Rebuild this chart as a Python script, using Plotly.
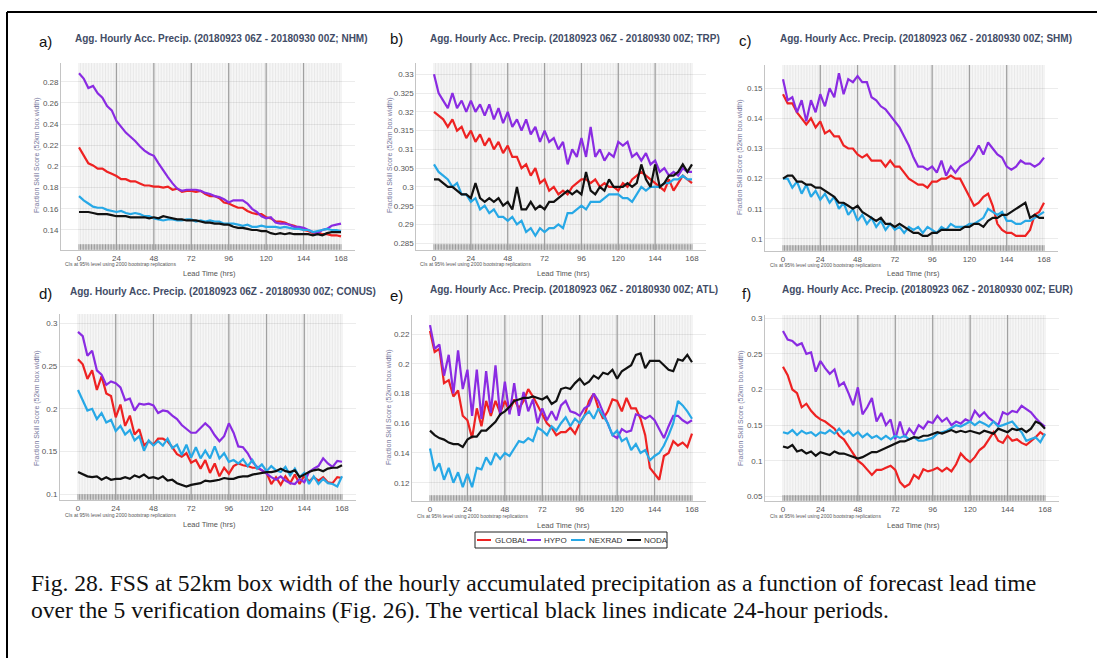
import plotly.graph_objects as go

W, H = 1097, 658

# ---------------------------------------------------------------- data
hours = list(range(0, 169, 3))
x_tick_vals = [0, 24, 48, 72, 96, 120, 144, 168]
x_tick_text = ["0", "24", "48", "72", "96", "120", "144", "168"]

series_names = ["GLOBAL", "HYPO", "NEXRAD", "NODA"]
series_colors = ["#ee2222", "#8a2be2", "#27a8e6", "#111111"]

domain_names = ["NHM", "TRP", "SHM", "CONUS", "ATL", "EUR"]
panel_letters = ["a)", "b)", "c)", "d)", "e)", "f)"]

# NHM
nhm_global = [0.218, 0.210, 0.203, 0.201, 0.198, 0.198, 0.195, 0.193,
              0.191, 0.188, 0.188, 0.186, 0.186, 0.184, 0.182, 0.182,
              0.181, 0.181, 0.180, 0.181, 0.178, 0.179, 0.176, 0.177,
              0.177, 0.176, 0.177, 0.174, 0.172, 0.172, 0.170, 0.166,
              0.165, 0.163, 0.161, 0.161, 0.158, 0.156, 0.155, 0.155,
              0.152, 0.151, 0.148, 0.148, 0.147, 0.145, 0.144, 0.142,
              0.140, 0.139, 0.137, 0.138, 0.136, 0.136, 0.135, 0.135,
              0.134]
nhm_hypo = [0.288, 0.283, 0.274, 0.276, 0.269, 0.265, 0.257, 0.253,
            0.243, 0.237, 0.232, 0.228, 0.224, 0.219, 0.215, 0.212,
            0.210, 0.203, 0.196, 0.190, 0.184, 0.179, 0.177, 0.178,
            0.178, 0.178, 0.177, 0.175, 0.174, 0.172, 0.171, 0.169,
            0.166, 0.168, 0.168, 0.168, 0.165, 0.160, 0.157, 0.153,
            0.151, 0.152, 0.147, 0.146, 0.146, 0.145, 0.143, 0.143,
            0.142, 0.140, 0.138, 0.137, 0.140, 0.141, 0.144, 0.145,
            0.146]
nhm_nexrad = [0.172, 0.168, 0.165, 0.162, 0.161, 0.161, 0.159, 0.158,
              0.157, 0.158, 0.156, 0.155, 0.156, 0.155, 0.153, 0.153,
              0.151, 0.150, 0.149, 0.150, 0.150, 0.149, 0.149, 0.150,
              0.150, 0.148, 0.149, 0.148, 0.149, 0.148, 0.148, 0.146,
              0.146, 0.146, 0.145, 0.144, 0.145, 0.143, 0.143, 0.144,
              0.143, 0.143, 0.143, 0.142, 0.143, 0.142, 0.141, 0.141,
              0.140, 0.140, 0.138, 0.139, 0.140, 0.141, 0.140, 0.140,
              0.139]
nhm_noda = [0.157, 0.157, 0.157, 0.156, 0.155, 0.155, 0.155, 0.154,
            0.153, 0.153, 0.153, 0.152, 0.152, 0.152, 0.152, 0.151,
            0.152, 0.151, 0.153, 0.152, 0.151, 0.150, 0.150, 0.149,
            0.149, 0.149, 0.148, 0.147, 0.147, 0.146, 0.146, 0.145,
            0.145, 0.143, 0.142, 0.142, 0.141, 0.140, 0.140, 0.139,
            0.139, 0.137, 0.136, 0.137, 0.136, 0.137, 0.136, 0.136,
            0.136, 0.136, 0.135, 0.136, 0.135, 0.137, 0.138, 0.138,
            0.138]

# TRP
trp_global = [0.320, 0.319, 0.318, 0.316, 0.318, 0.315, 0.316, 0.313,
              0.315, 0.312, 0.314, 0.311, 0.313, 0.310, 0.312, 0.309,
              0.311, 0.308, 0.308, 0.305, 0.306, 0.303, 0.305, 0.301,
              0.302, 0.299, 0.300, 0.298, 0.299, 0.298, 0.300, 0.301,
              0.302, 0.302, 0.301, 0.302, 0.300, 0.301, 0.300, 0.300,
              0.299, 0.301, 0.300, 0.302, 0.303, 0.304, 0.303, 0.302,
              0.301, 0.300, 0.299, 0.302, 0.299, 0.301, 0.303, 0.302,
              0.301]
trp_hypo = [0.330, 0.325, 0.323, 0.321, 0.325, 0.321, 0.323, 0.320,
            0.323, 0.320, 0.322, 0.319, 0.322, 0.318, 0.321, 0.317,
            0.320, 0.316, 0.318, 0.315, 0.318, 0.314, 0.316, 0.312,
            0.315, 0.312, 0.313, 0.310, 0.312, 0.306, 0.310, 0.308,
            0.313, 0.308, 0.316, 0.308, 0.310, 0.307, 0.309, 0.308,
            0.312, 0.311, 0.312, 0.308, 0.309, 0.307, 0.309, 0.306,
            0.307, 0.304, 0.305, 0.303, 0.304, 0.303, 0.305, 0.304,
            0.304]
trp_nexrad = [0.306, 0.304, 0.303, 0.302, 0.300, 0.301, 0.298, 0.298,
              0.296, 0.297, 0.294, 0.295, 0.293, 0.294, 0.292, 0.292,
              0.291, 0.292, 0.290, 0.291, 0.288, 0.289, 0.287, 0.289,
              0.288, 0.289, 0.289, 0.290, 0.289, 0.293, 0.293, 0.294,
              0.295, 0.294, 0.296, 0.296, 0.296, 0.297, 0.298, 0.298,
              0.298, 0.297, 0.297, 0.296, 0.298, 0.300, 0.299, 0.300,
              0.300, 0.300, 0.301, 0.301, 0.302, 0.302, 0.303, 0.302,
              0.302]
trp_noda = [0.302, 0.302, 0.301, 0.300, 0.300, 0.299, 0.298, 0.298,
            0.297, 0.301, 0.297, 0.296, 0.297, 0.296, 0.297, 0.295,
            0.296, 0.294, 0.300, 0.294, 0.294, 0.296, 0.294, 0.295,
            0.294, 0.296, 0.296, 0.297, 0.298, 0.299, 0.298, 0.299,
            0.298, 0.304, 0.299, 0.298, 0.300, 0.299, 0.302, 0.300,
            0.300, 0.300, 0.301, 0.300, 0.301, 0.306, 0.302, 0.300,
            0.306, 0.300, 0.301, 0.303, 0.303, 0.304, 0.306, 0.304,
            0.306]

# SHM
shm_global = [0.148, 0.145, 0.145, 0.142, 0.140, 0.138, 0.140, 0.137,
              0.139, 0.135, 0.136, 0.134, 0.134, 0.131, 0.130, 0.130,
              0.128, 0.127, 0.128, 0.126, 0.126, 0.126, 0.124, 0.126,
              0.124, 0.124, 0.122, 0.120, 0.119, 0.118, 0.118, 0.117,
              0.119, 0.119, 0.120, 0.120, 0.121, 0.120, 0.120, 0.117,
              0.114, 0.111, 0.112, 0.114, 0.115, 0.111, 0.105, 0.103,
              0.102, 0.102, 0.101, 0.101, 0.101, 0.103, 0.108, 0.109,
              0.112]
shm_hypo = [0.153, 0.146, 0.147, 0.142, 0.146, 0.139, 0.146, 0.142,
            0.148, 0.144, 0.150, 0.147, 0.155, 0.148, 0.153, 0.152,
            0.154, 0.152, 0.152, 0.147, 0.146, 0.144, 0.143, 0.141,
            0.139, 0.137, 0.134, 0.131, 0.127, 0.124, 0.124, 0.123,
            0.124, 0.122, 0.126, 0.121, 0.124, 0.122, 0.124, 0.125,
            0.126, 0.128, 0.131, 0.128, 0.132, 0.130, 0.128, 0.127,
            0.124, 0.123, 0.124, 0.126, 0.125, 0.125, 0.124, 0.125,
            0.127]
shm_nexrad = [0.120, 0.120, 0.117, 0.119, 0.115, 0.118, 0.114, 0.116,
              0.113, 0.115, 0.112, 0.114, 0.110, 0.112, 0.108, 0.110,
              0.106, 0.108, 0.105, 0.107, 0.104, 0.106, 0.103, 0.105,
              0.103, 0.104, 0.102, 0.104, 0.103, 0.104, 0.102, 0.104,
              0.103, 0.102, 0.104, 0.103, 0.105, 0.104, 0.104, 0.104,
              0.105, 0.105, 0.106, 0.107, 0.110, 0.109, 0.108, 0.109,
              0.106, 0.106, 0.105, 0.105, 0.106, 0.106, 0.107, 0.108,
              0.109]
shm_noda = [0.120, 0.121, 0.121, 0.119, 0.119, 0.118, 0.118, 0.117,
            0.117, 0.116, 0.115, 0.114, 0.112, 0.112, 0.111, 0.110,
            0.111, 0.109, 0.108, 0.107, 0.106, 0.107, 0.105, 0.105,
            0.104, 0.105, 0.104, 0.103, 0.102, 0.102, 0.101, 0.101,
            0.102, 0.102, 0.103, 0.103, 0.103, 0.103, 0.103, 0.104,
            0.104, 0.105, 0.105, 0.104, 0.106, 0.107, 0.107, 0.108,
            0.108, 0.109, 0.110, 0.111, 0.112, 0.107, 0.108, 0.107,
            0.107]

# CONUS
conus_global = [0.258, 0.252, 0.235, 0.245, 0.222, 0.238, 0.218, 0.215,
                0.190, 0.205, 0.180, 0.192, 0.170, 0.176, 0.157, 0.162,
                0.158, 0.165, 0.165, 0.162, 0.155, 0.147, 0.144, 0.148,
                0.137, 0.140, 0.130, 0.140, 0.125, 0.136, 0.121, 0.131,
                0.124, 0.133, 0.136, 0.134, 0.133, 0.131, 0.131, 0.128,
                0.125, 0.112, 0.120, 0.111, 0.121, 0.113, 0.123, 0.112,
                0.122, 0.115, 0.120, 0.116, 0.120, 0.114, 0.113, 0.120,
                0.119]
conus_hypo = [0.290, 0.285, 0.262, 0.268, 0.245, 0.240, 0.228, 0.232,
              0.230, 0.225, 0.210, 0.212, 0.198, 0.206, 0.205, 0.206,
              0.204, 0.195, 0.198, 0.197, 0.192, 0.188, 0.181, 0.176,
              0.172, 0.172, 0.178, 0.183, 0.178, 0.169, 0.162, 0.168,
              0.183, 0.172, 0.156, 0.155, 0.148, 0.138, 0.132, 0.128,
              0.123, 0.120, 0.117, 0.121, 0.116, 0.113, 0.112, 0.118,
              0.114, 0.126, 0.130, 0.133, 0.142, 0.136, 0.132, 0.139,
              0.138]
conus_nexrad = [0.222, 0.210, 0.198, 0.200, 0.188, 0.195, 0.184, 0.187,
                0.174, 0.180, 0.170, 0.175, 0.163, 0.168, 0.151, 0.163,
                0.157, 0.162, 0.157, 0.165, 0.154, 0.158, 0.146, 0.158,
                0.143, 0.155, 0.142, 0.151, 0.142, 0.156, 0.142, 0.148,
                0.138, 0.140, 0.136, 0.141, 0.133, 0.140, 0.130, 0.135,
                0.127, 0.133, 0.128, 0.126, 0.132, 0.122, 0.130, 0.120,
                0.125, 0.112, 0.121, 0.112, 0.118, 0.113, 0.112, 0.109,
                0.121]
conus_noda = [0.126, 0.123, 0.121, 0.120, 0.121, 0.117, 0.120, 0.117,
              0.118, 0.118, 0.120, 0.118, 0.122, 0.120, 0.123, 0.119,
              0.120, 0.118, 0.121, 0.116, 0.117, 0.113, 0.111, 0.109,
              0.111, 0.112, 0.113, 0.116, 0.115, 0.116, 0.117, 0.119,
              0.118, 0.118, 0.120, 0.121, 0.121, 0.123, 0.124, 0.125,
              0.126, 0.126, 0.127, 0.130, 0.127, 0.126, 0.128, 0.120,
              0.123, 0.126, 0.128, 0.129, 0.127, 0.130, 0.131, 0.131,
              0.134]

# ATL
atl_global = [0.222, 0.208, 0.210, 0.187, 0.189, 0.178, 0.182, 0.165,
              0.162, 0.150, 0.170, 0.158, 0.175, 0.165, 0.175, 0.167,
              0.175, 0.168, 0.176, 0.170, 0.175, 0.183, 0.178, 0.172,
              0.165, 0.160, 0.157, 0.152, 0.154, 0.154, 0.157, 0.153,
              0.160, 0.165, 0.175, 0.180, 0.170, 0.163, 0.168, 0.176,
              0.175, 0.168, 0.177, 0.170, 0.170, 0.163, 0.152, 0.130,
              0.126, 0.122, 0.138, 0.140, 0.148, 0.145, 0.147, 0.144,
              0.153]
atl_hypo = [0.226, 0.210, 0.213, 0.192, 0.206, 0.180, 0.209, 0.183,
            0.196, 0.165, 0.196, 0.163, 0.195, 0.167, 0.199, 0.165,
            0.188, 0.166, 0.187, 0.165, 0.181, 0.168, 0.176, 0.160,
            0.170, 0.162, 0.168, 0.162, 0.172, 0.175, 0.168, 0.167,
            0.165, 0.170, 0.172, 0.180, 0.175, 0.167, 0.160, 0.152,
            0.150, 0.156, 0.154, 0.155, 0.166, 0.165, 0.163, 0.165,
            0.162, 0.156, 0.150, 0.158, 0.165, 0.165, 0.162, 0.160,
            0.162]
atl_nexrad = [0.143, 0.128, 0.133, 0.122, 0.130, 0.120, 0.127, 0.117,
              0.126, 0.117, 0.130, 0.129, 0.137, 0.132, 0.140, 0.136,
              0.140, 0.138, 0.143, 0.148, 0.147, 0.150, 0.148, 0.157,
              0.155, 0.152, 0.158, 0.155, 0.160, 0.164, 0.158, 0.163,
              0.160, 0.165, 0.168, 0.163, 0.170, 0.165, 0.160, 0.152,
              0.155, 0.148, 0.150, 0.142, 0.146, 0.140, 0.142, 0.135,
              0.138, 0.140, 0.145, 0.152, 0.160, 0.175, 0.172, 0.168,
              0.163]
atl_noda = [0.155, 0.152, 0.150, 0.149, 0.147, 0.146, 0.146, 0.144,
            0.149, 0.151, 0.151, 0.155, 0.155, 0.158, 0.161, 0.166,
            0.168, 0.171, 0.175, 0.176, 0.177, 0.177, 0.178, 0.177,
            0.176, 0.178, 0.173, 0.175, 0.183, 0.184, 0.183, 0.187,
            0.190, 0.186, 0.188, 0.192, 0.190, 0.194, 0.193, 0.196,
            0.190, 0.195, 0.197, 0.199, 0.206, 0.207, 0.197, 0.202,
            0.202, 0.202, 0.199, 0.196, 0.195, 0.203, 0.202, 0.206,
            0.201]

# EUR
eur_global = [0.232, 0.220, 0.200, 0.195, 0.175, 0.180, 0.170, 0.163,
              0.158, 0.155, 0.150, 0.145, 0.135, 0.130, 0.120, 0.110,
              0.100, 0.095, 0.088, 0.080, 0.087, 0.087, 0.090, 0.093,
              0.087, 0.070, 0.063, 0.067, 0.080, 0.075, 0.088, 0.085,
              0.087, 0.090, 0.085, 0.090, 0.085, 0.095, 0.110, 0.103,
              0.098, 0.105, 0.115, 0.120, 0.130, 0.140, 0.128, 0.125,
              0.135, 0.128, 0.130, 0.125, 0.122, 0.127, 0.133, 0.140,
              0.135]
eur_hypo = [0.282, 0.270, 0.268, 0.262, 0.265, 0.250, 0.252, 0.225,
            0.240, 0.230, 0.222, 0.228, 0.205, 0.210, 0.195, 0.178,
            0.203, 0.165, 0.175, 0.188, 0.155, 0.167, 0.150, 0.158,
            0.130, 0.155, 0.133, 0.145, 0.137, 0.150, 0.145, 0.155,
            0.153, 0.163, 0.155, 0.160, 0.150, 0.155, 0.152, 0.158,
            0.155, 0.170, 0.162, 0.168, 0.160, 0.155, 0.150, 0.168,
            0.165, 0.170, 0.168, 0.177, 0.172, 0.168, 0.160, 0.153,
            0.148]
eur_nexrad = [0.140, 0.138, 0.143, 0.136, 0.142, 0.138, 0.140, 0.135,
              0.140, 0.138, 0.143, 0.138, 0.145, 0.137, 0.142, 0.135,
              0.140, 0.133, 0.138, 0.132, 0.135, 0.130, 0.135, 0.130,
              0.135, 0.132, 0.135, 0.130, 0.133, 0.128, 0.128, 0.130,
              0.132, 0.138, 0.140, 0.142, 0.146, 0.150, 0.148, 0.152,
              0.155, 0.150, 0.155, 0.152, 0.148, 0.155, 0.148, 0.150,
              0.152, 0.155, 0.147, 0.140, 0.128, 0.130, 0.133, 0.126,
              0.138]
eur_noda = [0.120, 0.118, 0.122, 0.113, 0.115, 0.110, 0.113, 0.107,
            0.112, 0.110, 0.108, 0.113, 0.110, 0.110, 0.108, 0.105,
            0.103, 0.105, 0.108, 0.112, 0.112, 0.115, 0.118, 0.120,
            0.123, 0.127, 0.127, 0.130, 0.133, 0.132, 0.135, 0.135,
            0.137, 0.140, 0.138, 0.140, 0.143, 0.140, 0.142, 0.140,
            0.142, 0.140, 0.138, 0.142, 0.140, 0.138, 0.145, 0.142,
            0.140, 0.145, 0.143, 0.145, 0.140, 0.145, 0.155, 0.152,
            0.145]

panel_series = [
    [nhm_global, nhm_hypo, nhm_nexrad, nhm_noda],
    [trp_global, trp_hypo, trp_nexrad, trp_noda],
    [shm_global, shm_hypo, shm_nexrad, shm_noda],
    [conus_global, conus_hypo, conus_nexrad, conus_noda],
    [atl_global, atl_hypo, atl_nexrad, atl_noda],
    [eur_global, eur_hypo, eur_nexrad, eur_noda],
]

# y tick values / labels per panel
nhm_yticks = [0.14, 0.16, 0.18, 0.20, 0.22, 0.24, 0.26, 0.28]
nhm_ylabels = ["0.14", "0.16", "0.18", "0.2", "0.22", "0.24", "0.26", "0.28"]
trp_yticks = [0.285, 0.29, 0.295, 0.30, 0.305, 0.31, 0.315, 0.32, 0.325, 0.33]
trp_ylabels = ["0.285", "0.29", "0.295", "0.3", "0.305", "0.31", "0.315", "0.32", "0.325", "0.33"]
shm_yticks = [0.10, 0.11, 0.12, 0.13, 0.14, 0.15]
shm_ylabels = ["0.1", "0.11", "0.12", "0.13", "0.14", "0.15"]
conus_yticks = [0.10, 0.15, 0.20, 0.25, 0.30]
conus_ylabels = ["0.1", "0.15", "0.2", "0.25", "0.3"]
atl_yticks = [0.12, 0.14, 0.16, 0.18, 0.20, 0.22]
atl_ylabels = ["0.12", "0.14", "0.16", "0.18", "0.2", "0.22"]
eur_yticks = [0.05, 0.10, 0.15, 0.20, 0.25, 0.30]
eur_ylabels = ["0.05", "0.1", "0.15", "0.2", "0.25", "0.3"]

panel_yticks = [(nhm_yticks, nhm_ylabels), (trp_yticks, trp_ylabels),
                (shm_yticks, shm_ylabels), (conus_yticks, conus_ylabels),
                (atl_yticks, atl_ylabels), (eur_yticks, eur_ylabels)]
panel_yranges = [[0.1211, 0.2977], [0.2832, 0.3330], [0.0960, 0.1577],
                 [0.0933, 0.3109], [0.1077, 0.2328], [0.0434, 0.3046]]

title_tpl = "Agg. Hourly Acc. Precip. (20180923 06Z - 20180930 00Z; {})"
y_title = "Fraction Skill Score (52km box width)"
x_title = "Lead Time (hrs)"
ci_note = "CIs at 95% level using 2000 bootstrap replications"
caption_lines = [
    "Fig. 28. FSS at 52km box width of the hourly accumulated precipitation as a function of forecast lead time",
    "over the 5 verification domains (Fig. 26). The vertical black lines indicate 24-hour periods.",
]

# ---------------------------------------------------------------- layout geometry (pixels)
# x pixel of hour 0 / hour 168, plot top / bottom, and text anchors
geom = [
    dict(x0=79, x168=341, top=63, bottom=250, letter=(37, 42), title=(73, 39), ytitle=(37, 155), ci=(63, 264), xtitle=(209, 273)),
    dict(x0=434, x168=692, top=63, bottom=250, letter=(388, 39), title=(428, 39), ytitle=(390, 155), ci=(418, 264), xtitle=(563, 273)),
    dict(x0=783, x168=1044, top=65, bottom=251, letter=(737, 40), title=(778, 39), ytitle=(740, 157), ci=(768, 265), xtitle=(913, 274)),
    dict(x0=78, x168=342, top=314, bottom=500, letter=(37, 293), title=(68, 291), ytitle=(37, 408), ci=(63, 515), xtitle=(209, 524)),
    dict(x0=430, x168=692, top=315, bottom=501, letter=(388, 295), title=(428, 290), ytitle=(389, 407), ci=(415, 516), xtitle=(563, 525)),
    dict(x0=783, x168=1045, top=315, bottom=501, letter=(740, 293), title=(780, 290), ytitle=(741, 408), ci=(768, 516), xtitle=(913, 525)),
]
X_RANGE = [-11.5, 177.0]

SANS = "Liberation Sans, Arial, sans-serif"


def px(x):
    return x / W


def py(y):
    return 1 - y / H


fig = go.Figure()
annotations = []
shapes = []
layout_axes = {}

for i in range(6):
    g = geom[i]
    n = i + 1
    xa_name = "xaxis" if n == 1 else f"xaxis{n}"
    ya_name = "yaxis" if n == 1 else f"yaxis{n}"
    xref = "x" if n == 1 else f"x{n}"
    yref = "y" if n == 1 else f"y{n}"
    pph = (g["x168"] - g["x0"]) / 168.0
    yr = panel_yranges[i]
    yv, yt = panel_yticks[i]

    layout_axes[xa_name] = dict(
        domain=[px(g["x0"] + X_RANGE[0] * pph), px(g["x0"] + X_RANGE[1] * pph)],
        range=X_RANGE, anchor=yref, showgrid=False, zeroline=False,
        showline=True, linecolor="#c4c4c4", linewidth=1,
        tickvals=x_tick_vals, ticktext=x_tick_text, ticks="",
        tickfont=dict(family=SANS, size=8, color="#555555"),
        fixedrange=True,
    )
    layout_axes[ya_name] = dict(
        domain=[py(g["bottom"]), py(g["top"])],
        range=yr, anchor=xref, showgrid=True, gridcolor="#ececec",
        gridwidth=1, zeroline=False, showline=True, linecolor="#c4c4c4",
        linewidth=1, tickvals=yv, ticktext=yt, ticks="",
        tickfont=dict(family=SANS, size=8, color="#555555"),
        fixedrange=True,
    )

    # hourly background lines
    hx, hy = [], []
    for h in range(0, 169):
        hx += [h, h, None]
        hy += [yr[0], yr[1], None]
    fig.add_trace(go.Scatter(x=hx, y=hy, mode="lines", xaxis=xref, yaxis=yref,
                             line=dict(color="rgba(0,0,0,0.09)", width=1),
                             hoverinfo="skip", showlegend=False))
    # 24-hour period lines
    dx, dy = [], []
    for h in range(24, 168, 24):
        dx += [h, h, None]
        dy += [yr[0], yr[1], None]
    fig.add_trace(go.Scatter(x=dx, y=dy, mode="lines", xaxis=xref, yaxis=yref,
                             line=dict(color="#a0a0a0", width=1.3),
                             hoverinfo="skip", showlegend=False))
    # row of hourly marks along the bottom
    unit = (g["bottom"] - g["top"]) / (yr[1] - yr[0])
    mark_y = yr[0] + 3.0 / unit
    hrs = list(range(0, 169))
    fig.add_trace(go.Scatter(x=hrs, y=[mark_y] * len(hrs), mode="markers",
                             xaxis=xref, yaxis=yref,
                             marker=dict(symbol="line-ns-open", size=4, color="#9a9a9a",
                                         line=dict(color="#9a9a9a", width=1)),
                             hoverinfo="skip", showlegend=False))

    # forecast series
    for name, color, vals in zip(series_names, series_colors, panel_series[i]):
        fig.add_trace(go.Scatter(x=hours, y=vals, mode="lines", name=name,
                                 xaxis=xref, yaxis=yref,
                                 line=dict(color=color, width=2.2),
                                 showlegend=False))

    # texts
    annotations.append(dict(text=panel_letters[i], x=px(g["letter"][0]), y=py(g["letter"][1]),
                            xref="paper", yref="paper", xanchor="left", yanchor="middle",
                            showarrow=False, font=dict(family=SANS, size=15, color="#111111")))
    annotations.append(dict(text="<b>" + title_tpl.format(domain_names[i]) + "</b>",
                            x=px(g["title"][0]), y=py(g["title"][1]),
                            xref="paper", yref="paper", xanchor="left", yanchor="middle",
                            showarrow=False, font=dict(family=SANS, size=10, color="#424c66")))
    annotations.append(dict(text=y_title, x=px(g["ytitle"][0]), y=py(g["ytitle"][1]),
                            xref="paper", yref="paper", xanchor="center", yanchor="middle",
                            textangle=-90, showarrow=False,
                            font=dict(family=SANS, size=7, color="#77779c")))
    annotations.append(dict(text=ci_note, x=px(g["ci"][0]), y=py(g["ci"][1]),
                            xref="paper", yref="paper", xanchor="left", yanchor="middle",
                            showarrow=False, font=dict(family=SANS, size=5, color="#555555")))
    annotations.append(dict(text=x_title, x=px(g["xtitle"][0]), y=py(g["xtitle"][1]),
                            xref="paper", yref="paper", xanchor="center", yanchor="middle",
                            showarrow=False, font=dict(family=SANS, size=7.5, color="#555555")))

# legend drawn as a framed box under the middle panel
shapes.append(dict(type="rect", xref="paper", yref="paper",
                   x0=px(475), x1=px(667), y0=py(548), y1=py(532),
                   line=dict(color="#222222", width=1), fillcolor="white"))
legend_items = [(477, 493), (527, 542), (571, 587), (627, 642)]
for (lx, tx), name, color in zip(legend_items, series_names, series_colors):
    shapes.append(dict(type="line", xref="paper", yref="paper",
                       x0=px(lx), x1=px(lx + 14), y0=py(540), y1=py(540),
                       line=dict(color=color, width=2)))
    annotations.append(dict(text=name, x=px(tx), y=py(540), xref="paper", yref="paper",
                            xanchor="left", yanchor="middle", showarrow=False,
                            font=dict(family=SANS, size=8, color="#333333")))

# caption
for k, line in enumerate(caption_lines):
    annotations.append(dict(text=line, x=px(29), y=py(583 + 27 * k), xref="paper", yref="paper",
                            xanchor="left", yanchor="middle", showarrow=False,
                            font=dict(family="Liberation Serif, Times New Roman, serif",
                                      size=23.6, color="#111111")))

# frame around figure and caption
shapes.append(dict(type="line", xref="paper", yref="paper", x0=px(7), x1=1.0,
                   y0=py(12), y1=py(12), line=dict(color="black", width=2)))
shapes.append(dict(type="line", xref="paper", yref="paper", x0=px(7), x1=px(7),
                   y0=py(12), y1=0.0, line=dict(color="black", width=2)))

fig.update_layout(
    width=W, height=H,
    margin=dict(l=0, r=0, t=0, b=0),
    paper_bgcolor="white", plot_bgcolor="white",
    showlegend=False,
    annotations=annotations,
    shapes=shapes,
    **layout_axes,
)

fig.write_html("out.html")
